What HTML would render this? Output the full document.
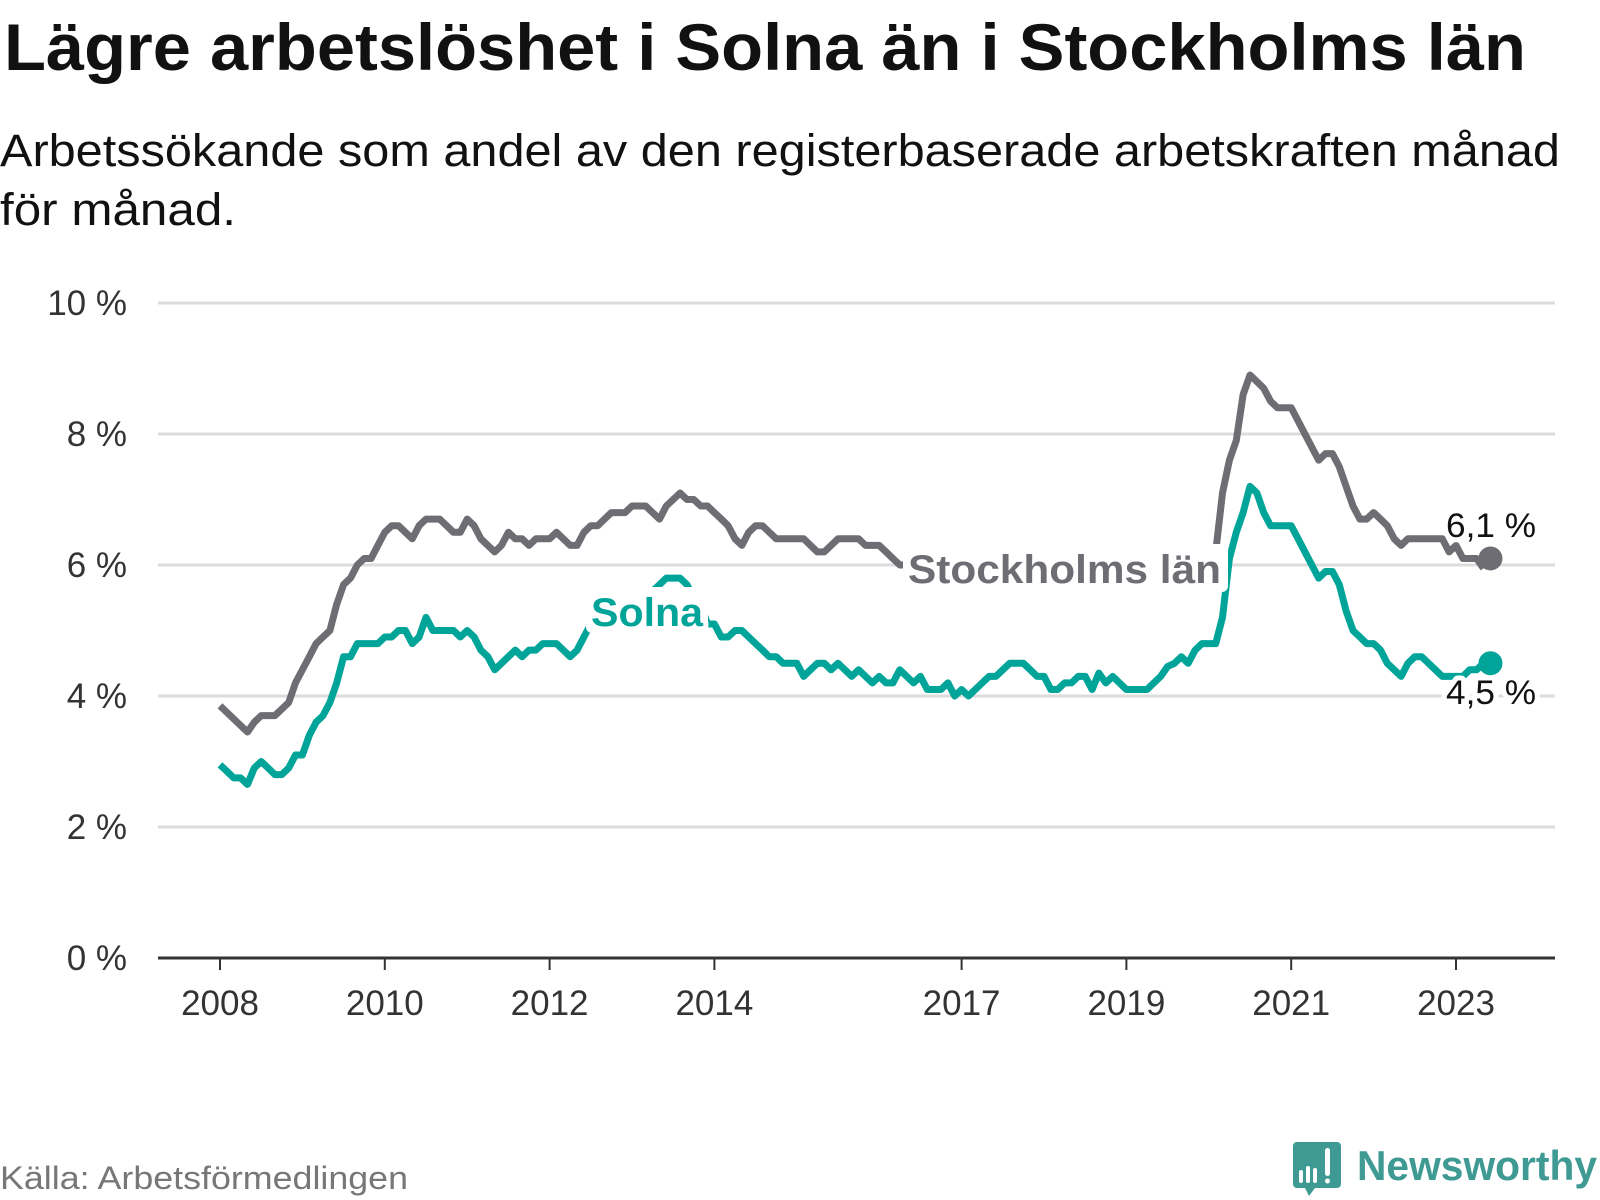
<!DOCTYPE html>
<html><head><meta charset="utf-8"><style>
html,body{margin:0;padding:0;background:#fff;}
svg{display:block;font-family:"Liberation Sans",sans-serif;}
</style></head><body>
<svg id="chart" width="1600" height="1200" viewBox="0 0 1600 1200">
<text x="4" y="70" font-size="66" font-weight="bold" fill="#111" textLength="1522" lengthAdjust="spacingAndGlyphs">Lägre arbetslöshet i Solna än i Stockholms län</text>
<text x="0" y="166" font-size="45" fill="#111" textLength="1560" lengthAdjust="spacingAndGlyphs">Arbetssökande som andel av den registerbaserade arbetskraften månad</text>
<text x="0" y="225" font-size="45" fill="#111" textLength="236" lengthAdjust="spacingAndGlyphs">för månad.</text>
<g id="grid"></g>
<g id="xaxis"></g>
<g id="lines"></g>
<g id="labels"></g>
<text x="0" y="1189" font-size="32" fill="#777" textLength="408" lengthAdjust="spacingAndGlyphs">Källa: Arbetsförmedlingen</text>
<g>
<path d="M1297 1142 h40 a4 4 0 0 1 4 4 v38 a4 4 0 0 1 -4 4 h-22 l-6 8 l-4 -8 h-8 a4 4 0 0 1 -4 -4 v-38 a4 4 0 0 1 4 -4z" fill="#3f9a94"/>
<rect x="1299" y="1170" width="4" height="13" rx="2" fill="#fff"/>
<rect x="1306" y="1166" width="4" height="17" rx="2" fill="#fff"/>
<rect x="1313" y="1168" width="4" height="15" rx="2" fill="#fff"/>
<rect x="1325" y="1148" width="5" height="28" rx="2.5" fill="#fff"/>
<circle cx="1327.5" cy="1181" r="2.5" fill="#fff"/>
<text x="1357" y="1180" font-size="42" font-weight="bold" fill="#3f9a94" textLength="240" lengthAdjust="spacingAndGlyphs">Newsworthy</text>
</g>
</svg>
<script>
const yTicks=[0,2,4,6,8,10];
const yearLabels=[2008,2010,2012,2014,2017,2019,2021,2023];
const startYear=2008;
const stockholm=[
3.85,3.75,3.65,3.55,3.45,3.6,3.7,3.7,3.7,3.8,3.9,4.2,
4.4,4.6,4.8,4.9,5.0,5.4,5.7,5.8,6.0,6.1,6.1,6.3,
6.5,6.6,6.6,6.5,6.4,6.6,6.7,6.7,6.7,6.6,6.5,6.5,
6.7,6.6,6.4,6.3,6.2,6.3,6.5,6.4,6.4,6.3,6.4,6.4,
6.4,6.5,6.4,6.3,6.3,6.5,6.6,6.6,6.7,6.8,6.8,6.8,
6.9,6.9,6.9,6.8,6.7,6.9,7.0,7.1,7.0,7.0,6.9,6.9,
6.8,6.7,6.6,6.4,6.3,6.5,6.6,6.6,6.5,6.4,6.4,6.4,
6.4,6.4,6.3,6.2,6.2,6.3,6.4,6.4,6.4,6.4,6.3,6.3,
6.3,6.2,6.1,6.0,6.0,6.0,6.0,5.9,5.9,5.9,5.9,5.9,
5.9,5.9,5.9,5.9,5.8,5.8,5.8,5.8,5.8,5.8,5.8,5.8,
5.8,5.8,5.8,5.8,5.8,5.8,5.8,5.8,5.8,5.8,5.8,5.8,
5.8,5.8,5.8,5.8,5.8,5.8,5.9,5.9,5.9,6.0,6.1,6.2,
6.2,6.2,7.1,7.6,7.9,8.6,8.9,8.8,8.7,8.5,8.4,8.4,
8.4,8.2,8.0,7.8,7.6,7.7,7.7,7.5,7.2,6.9,6.7,6.7,
6.8,6.7,6.6,6.4,6.3,6.4,6.4,6.4,6.4,6.4,6.4,6.2,
6.3,6.1,6.1,6.1,5.95];
const solna=[
2.95,2.85,2.75,2.75,2.65,2.9,3.0,2.9,2.8,2.8,2.9,3.1,
3.1,3.4,3.6,3.7,3.9,4.2,4.6,4.6,4.8,4.8,4.8,4.8,
4.9,4.9,5.0,5.0,4.8,4.9,5.2,5.0,5.0,5.0,5.0,4.9,
5.0,4.9,4.7,4.6,4.4,4.5,4.6,4.7,4.6,4.7,4.7,4.8,
4.8,4.8,4.7,4.6,4.7,4.9,5.1,5.3,5.5,5.6,5.5,5.5,
5.4,5.5,5.5,5.6,5.7,5.8,5.8,5.8,5.7,5.5,5.4,5.1,
5.1,4.9,4.9,5.0,5.0,4.9,4.8,4.7,4.6,4.6,4.5,4.5,
4.5,4.3,4.4,4.5,4.5,4.4,4.5,4.4,4.3,4.4,4.3,4.2,
4.3,4.2,4.2,4.4,4.3,4.2,4.3,4.1,4.1,4.1,4.2,4.0,
4.1,4.0,4.1,4.2,4.3,4.3,4.4,4.5,4.5,4.5,4.4,4.3,
4.3,4.1,4.1,4.2,4.2,4.3,4.3,4.1,4.35,4.2,4.3,4.2,
4.1,4.1,4.1,4.1,4.2,4.3,4.45,4.5,4.6,4.5,4.7,4.8,
4.8,4.8,5.2,6.1,6.5,6.8,7.2,7.1,6.8,6.6,6.6,6.6,
6.6,6.4,6.2,6.0,5.8,5.9,5.9,5.7,5.3,5.0,4.9,4.8,
4.8,4.7,4.5,4.4,4.3,4.5,4.6,4.6,4.5,4.4,4.3,4.3,
4.3,4.3,4.4,4.4,4.5];
const lastStockholm="6,1 %";
const lastSolna="4,5 %";
const lastStockholmVal=6.1, lastSolnaVal=4.5;

const NS="http://www.w3.org/2000/svg";
const x0=220, perYear=82.4, plotL=158, plotR=1555;
const xm=i=>x0+i*perYear/12;
const xy=yr=>x0+(yr-startYear)*perYear;
const y=v=>958-v*65.5;
function mk(tag,attrs,parent,text){const e=document.createElementNS(NS,tag);for(const k in attrs)e.setAttribute(k,attrs[k]);if(text!==undefined)e.textContent=text;parent.appendChild(e);return e;}
const grid=document.getElementById('grid');
yTicks.forEach(t=>{
 if(t>0){const l=mk('line',{x1:plotL,x2:plotR,y1:y(t),y2:y(t),stroke:'#dcdcdc','stroke-width':3},grid);
 
 }
 const tx=mk('text',{x:127,y:y(t)+12,'font-size':35,fill:'#333','text-anchor':'end'},grid,t+' %');
 
 
});
const xa=document.getElementById('xaxis');
const ax=mk('line',{x1:plotL,x2:plotR,y1:958,y2:958,stroke:'#333','stroke-width':3},xa);


yearLabels.forEach(yr=>{
 const tk=mk('line',{x1:xy(yr),x2:xy(yr),y1:958,y2:970,stroke:'#333','stroke-width':2},xa);
 
 
 const tl=mk('text',{x:xy(yr),y:1015,'font-size':35,fill:'#333','text-anchor':'middle'},xa,String(yr));
 
 
});
const lines=document.getElementById('lines');
function drawLine(arr,color,name){
 const d=arr.map((v,i)=>(i?'L':'M')+xm(i).toFixed(1)+' '+y(v).toFixed(1)).join(' ');
 const p=mk('path',{d:d,fill:'none',stroke:color,'stroke-width':7,'stroke-linejoin':'round'},lines);
 
 
}
drawLine(stockholm,'#6e6d73','stockholm-line');
drawLine(solna,'#00a498','solna-line');
const lab=document.getElementById('labels');
const n=stockholm.length-1;
const d1=mk('circle',{cx:xm(n)+7,cy:y(lastStockholmVal),r:12,fill:'#6e6d73'},lab);


const d2=mk('circle',{cx:xm(solna.length-1)+7,cy:y(lastSolnaVal),r:12,fill:'#00a498'},lab);


function box(x,yy,w,h,name){
 const r=mk('rect',{x:x,y:yy,width:w,height:h,rx:6,fill:'#fff'},lab);
 
 
}
box(903,544,325,48,'stockholm-label-bg');
box(586,587,122,46,'solna-label-bg');
function halo(x,yy,txt,size,color,bold,name,w){
 const a={x:x,y:yy,'font-size':size,fill:color,stroke:'#fff','stroke-width':10,'stroke-linejoin':'round','paint-order':'stroke'};
 if(bold)a['font-weight']='bold';
 if(w){a.textLength=w;a.lengthAdjust='spacingAndGlyphs';}
 const t=mk('text',a,lab,txt);
 
 
}
halo(1446,537,lastStockholm,34,'#111',false,'stockholm-value-label',90);
halo(1446,704,lastSolna,34,'#111',false,'solna-value-label',90);
halo(908,583,'Stockholms län',40,'#6e6d73',true,'stockholm-series-label',313);
halo(591,626,'Solna',40,'#00a498',true,'solna-series-label',112);
</script>
</body></html>
